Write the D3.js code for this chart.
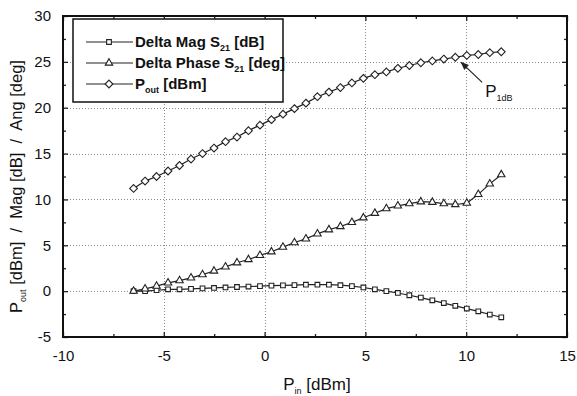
<!DOCTYPE html>
<html>
<head>
<meta charset="utf-8">
<script src="https://cdn.jsdelivr.net/npm/d3@7"></script>
<style>
body { margin: 0; background: #fff; }
text { font-family: "Liberation Sans", Arial, sans-serif; fill: #111; white-space: pre; }
</style>
</head>
<body>
<svg id="chart" width="577" height="396"></svg>
<script>
// input power sweep [dBm]
var pinValues = [-6.50, -5.93, -5.36, -4.79, -4.22, -3.65, -3.08, -2.51, -1.94, -1.37, -0.80,
                 -0.23, 0.34, 0.91, 1.48, 2.05, 2.62, 3.19, 3.76, 4.33, 4.90, 5.47,
                 6.04, 6.61, 7.18, 7.75, 8.32, 8.89, 9.46, 10.03, 10.60, 11.17, 11.74];
var magValues = [0.0, 0.0, 0.1, 0.2, 0.2, 0.25, 0.3, 0.35, 0.4, 0.45, 0.5,
                 0.55, 0.6, 0.63, 0.66, 0.7, 0.7, 0.7, 0.65, 0.55, 0.4, 0.2,
                 0.0, -0.2, -0.45, -0.7, -1.0, -1.3, -1.6, -1.9, -2.2, -2.55, -2.85];
var phaseValues = [0.0, 0.25, 0.55, 0.9, 1.15, 1.45, 1.8, 2.2, 2.65, 3.1, 3.45,
                   3.9, 4.3, 4.8, 5.3, 5.7, 6.25, 6.7, 7.05, 7.5, 8.0, 8.5,
                   9.0, 9.3, 9.55, 9.75, 9.7, 9.55, 9.45, 9.6, 10.55, 11.7, 12.7];
var poutValues = [11.2, 12.0, 12.5, 13.1, 13.7, 14.4, 15.0, 15.6, 16.3, 16.8, 17.5,
                  18.1, 18.7, 19.3, 19.9, 20.5, 21.2, 21.7, 22.2, 22.7, 23.2, 23.6,
                  23.9, 24.3, 24.6, 24.9, 25.1, 25.3, 25.5, 25.7, 25.8, 26.0, 26.1];

var xTicks = [-10, -5, 0, 5, 10, 15];
var yTicks = [-5, 0, 5, 10, 15, 20, 25, 30];
var xGridTicks = [-5, 0, 5, 10];
var yGridTicks = [0, 5, 10, 15, 20, 25];
var xMinorTicks = [-7.5, -2.5, 2.5, 7.5, 12.5];
var yMinorTicks = [-2.5, 2.5, 7.5, 12.5, 17.5, 22.5, 27.5];

var seriesNames = [["Delta Mag S", "21", " [dB]"], ["Delta Phase S", "21", " [deg]"], ["P", "out", " [dBm]"]];
var p1dbPin = 9.75;

var margin = {top: 16, right: 10, bottom: 59, left: 63},
    width = 577 - margin.left - margin.right,
    height = 396 - margin.top - margin.bottom;

var svg = d3.select("#chart");
var g = svg.append("g").attr("transform", "translate(" + margin.left + "," + margin.top + ")");

var x = d3.scaleLinear().domain([-10, 15]).range([0, width]);
var y = d3.scaleLinear().domain([-5, 30]).range([height, 0]);

// plain hyphen minus like the original
var fmt = function(d){ return String(d); };

//---------------------------------------------------------------
// dotted grid, drawn as paths
var gridPath = "";
xGridTicks.forEach(function(d){
    var px = Math.round(x(d)) + 0.5;
    gridPath += "M" + px + ",1V" + (height - 1);
});
yGridTicks.forEach(function(d){
    var py = Math.round(y(d)) + 0.5;
    gridPath += "M1," + py + "H" + (width - 1);
});
g.append("path")
    .attr("d", gridPath)
    .attr("fill", "none")
    .attr("stroke", "#8a8a8a")
    .attr("stroke-width", 1)
    .attr("stroke-dasharray", "1,2");

//---------------------------------------------------------------
// axes with inward ticks on all four sides
function styleAxis(s){
    s.select(".domain").remove();
    s.selectAll(".tick line").attr("stroke", "#222").attr("stroke-width", 1.3);
    s.selectAll("text").style("font-size", "15px").attr("fill", "#111");
}
g.append("g").attr("transform", "translate(0," + height + ")")
    .call(d3.axisBottom(x).tickValues(xTicks).tickSizeInner(-5).tickPadding(13).tickFormat(fmt)).call(styleAxis);
g.append("g").attr("transform", "translate(0," + height + ")")
    .call(d3.axisBottom(x).tickValues(xMinorTicks).tickSizeInner(-3).tickFormat("")).call(styleAxis);
g.append("g")
    .call(d3.axisLeft(y).tickValues(yTicks).tickSizeInner(-5).tickPadding(12).tickFormat(fmt)).call(styleAxis);
g.append("g")
    .call(d3.axisLeft(y).tickValues(yMinorTicks).tickSizeInner(-3).tickFormat("")).call(styleAxis);
g.append("g")
    .call(d3.axisTop(x).tickValues(xTicks).tickSizeInner(-5).tickFormat("")).call(styleAxis);
g.append("g")
    .call(d3.axisTop(x).tickValues(xMinorTicks).tickSizeInner(-3).tickFormat("")).call(styleAxis);
g.append("g").attr("transform", "translate(" + width + ",0)")
    .call(d3.axisRight(y).tickValues(yTicks).tickSizeInner(-5).tickFormat("")).call(styleAxis);
g.append("g").attr("transform", "translate(" + width + ",0)")
    .call(d3.axisRight(y).tickValues(yMinorTicks).tickSizeInner(-3).tickFormat("")).call(styleAxis);

g.append("rect")
    .attr("width", width).attr("height", height)
    .attr("fill", "none").attr("stroke", "#111").attr("stroke-width", 2);

//---------------------------------------------------------------
// marker shapes
var diamondType = {
    draw: function(ctx, size){
        var r = Math.sqrt(size / 2);
        ctx.moveTo(0, -r); ctx.lineTo(r, 0); ctx.lineTo(0, r); ctx.lineTo(-r, 0); ctx.closePath();
    }
};
var markers = [
    d3.symbol().type(d3.symbolSquare).size(22),
    d3.symbol().type(d3.symbolTriangle).size(24),
    d3.symbol().type(diamondType).size(30)
];

var series = [magValues, phaseValues, poutValues];
var line = d3.line()
    .x(function(d, i){ return x(pinValues[i]); })
    .y(function(d){ return y(d); });

series.forEach(function(vals, k){
    g.append("path").datum(vals)
        .attr("d", line)
        .attr("fill", "none").attr("stroke", "#222").attr("stroke-width", 1.2);
    g.selectAll(".m" + k).data(vals).enter().append("path")
        .attr("class", "m" + k)
        .attr("transform", function(d, i){ return "translate(" + x(pinValues[i]) + "," + y(d) + ")"; })
        .attr("d", markers[k])
        .attr("fill", "#fff").attr("stroke", "#222").attr("stroke-width", 1.1);
});

//---------------------------------------------------------------
// legend
var lg = svg.append("g").attr("transform", "translate(73,19)");
lg.append("rect").attr("width", 210).attr("height", 83)
    .attr("fill", "#fff").attr("stroke", "#111").attr("stroke-width", 1.5);
var rowY = [23, 44, 65];
seriesNames.forEach(function(nm, k){
    var row = lg.append("g").attr("transform", "translate(0," + rowY[k] + ")");
    row.append("line").attr("x1", 13).attr("x2", 60)
        .attr("stroke", "#222").attr("stroke-width", 1.2);
    row.append("path").attr("transform", "translate(36,0)")
        .attr("d", markers[k]).attr("fill", "#fff").attr("stroke", "#222").attr("stroke-width", 1.1);
    var t = row.append("text").attr("x", 62).attr("y", 5)
        .style("font-size", "15px").style("font-weight", "bold");
    t.append("tspan").text(nm[0]);
    t.append("tspan").attr("dy", 4).style("font-size", "9px").text(nm[1]);
    t.append("tspan").attr("dy", -4).text(nm[2]);
});

//---------------------------------------------------------------
// P1dB annotation
var p1dbOut = d3.scaleLinear().domain(pinValues).range(poutValues)(p1dbPin);
var ax = x(p1dbPin) + margin.left, ay = y(p1dbOut) + margin.top + 6;
svg.append("defs").append("marker")
    .attr("id", "arr").attr("viewBox", "0 0 10 10").attr("refX", 9).attr("refY", 5)
    .attr("markerWidth", 7).attr("markerHeight", 7).attr("orient", "auto")
    .append("path").attr("d", "M0,1 L10,5 L0,9 z").attr("fill", "#222");
svg.append("line")
    .attr("x1", ax + 21).attr("y1", ay + 20).attr("x2", ax).attr("y2", ay)
    .attr("stroke", "#222").attr("stroke-width", 1.2).attr("marker-end", "url(#arr)");
var pt = svg.append("text").attr("x", ax + 24).attr("y", ay + 35).style("font-size", "17px");
pt.append("tspan").text("P");
pt.append("tspan").attr("dy", 4).style("font-size", "9px").text("1dB");

//---------------------------------------------------------------
// axis titles
var xt = svg.append("text").attr("x", margin.left + x(2.6)).attr("y", 390)
    .attr("text-anchor", "middle").style("font-size", "17px");
xt.append("tspan").text("P");
xt.append("tspan").attr("dy", 4).style("font-size", "9px").text("in");
xt.append("tspan").attr("dy", -4).text(" [dBm]");

var yt = svg.append("text")
    .attr("transform", "translate(22," + (margin.top + height / 2 + 10) + ") rotate(-90)")
    .attr("text-anchor", "middle").style("font-size", "16.5px");
yt.append("tspan").text("P");
yt.append("tspan").attr("dy", 4).style("font-size", "9px").text("out");
yt.append("tspan").attr("dy", -4).text(" [dBm]  /  Mag [dB]  /  Ang [deg]");
</script>
</body>
</html>
